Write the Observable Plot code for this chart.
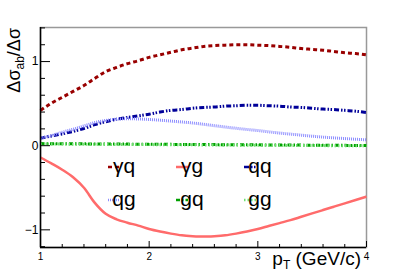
<!DOCTYPE html>
<html><head><meta charset="utf-8">
<script src="https://cdn.jsdelivr.net/npm/d3@7"></script>
<script src="https://cdn.jsdelivr.net/npm/@observablehq/plot@0.6"></script>
<style>body{margin:0;background:#fff} svg{display:block}</style>
</head><body><div id="chart"></div>
<script>
const pT = [1.0,1.1,1.2,1.3,1.4,1.5,1.6,1.7,1.8,1.9,2.0,2.1,2.2,2.3,2.4,2.5,2.6,2.7,2.8,2.9,3.0,3.1,3.2,3.3,3.4,3.5,3.6,3.7,3.8,3.9,4.0];
const gammaQ = [0.42,0.505,0.575,0.645,0.715,0.80,0.88,0.93,0.975,1.01,1.05,1.08,1.11,1.14,1.16,1.18,1.19,1.195,1.20,1.20,1.195,1.19,1.18,1.17,1.155,1.145,1.135,1.12,1.105,1.095,1.08];
const gammaG = [-0.14,-0.21,-0.285,-0.375,-0.50,-0.68,-0.81,-0.875,-0.915,-0.95,-0.99,-1.02,-1.045,-1.065,-1.075,-1.08,-1.075,-1.065,-1.045,-1.02,-0.99,-0.955,-0.92,-0.885,-0.845,-0.805,-0.765,-0.725,-0.685,-0.645,-0.605];
const qq = [0.09,0.115,0.14,0.17,0.205,0.25,0.285,0.315,0.335,0.355,0.375,0.40,0.42,0.43,0.445,0.455,0.46,0.47,0.475,0.48,0.48,0.475,0.47,0.46,0.455,0.445,0.435,0.43,0.42,0.41,0.395];
const qg = [0.09,0.12,0.16,0.195,0.235,0.275,0.30,0.315,0.32,0.318,0.312,0.303,0.293,0.282,0.27,0.255,0.238,0.222,0.207,0.193,0.18,0.165,0.15,0.138,0.125,0.113,0.102,0.093,0.085,0.077,0.07];
const gq = [0.025,0.024,0.024,0.023,0.022,0.021,0.021,0.02,0.019,0.018,0.018,0.017,0.016,0.015,0.015,0.014,0.013,0.012,0.012,0.011,0.01,0.009,0.009,0.008,0.007,0.006,0.006,0.005,0.004,0.003,0.003];
const gg = [0.02,0.019,0.019,0.018,0.017,0.016,0.016,0.015,0.014,0.013,0.013,0.012,0.011,0.01,0.01,0.009,0.008,0.007,0.007,0.006,0.005,0.004,0.004,0.003,0.002,0.001,0.001,0.0,-0.001,-0.002,-0.002];

const seriesNames = ["γq","γg","qq","qg","gq","gg"];
const seriesValues = [gammaQ, gammaG, qq, qg, gq, gg];
const seriesColors = ["#990000","#ff6b6b","#000099","#8c8cff","#00a000","#70e070"];
const seriesDash = ["4,3", null, "5,2,1.5,1.5,1.5,2", "1,1", "4,2,1.5,2", "1.5,2"];
const seriesWidth = [3, 2.5, 3, 3, 3, 3];

const xDomain = [1, 4];
const yDomain = [-1.21, 1.405];
const xMajor = [1, 2, 3, 4];
const xMinor = [1.2,1.4,1.6,1.8,2.2,2.4,2.6,2.8,3.2,3.4,3.6,3.8];
const yMajor = [-1, 0, 1];
const yMinor = [-1.2,-0.8,-0.6,-0.4,-0.2,0.2,0.4,0.6,0.8,1.2,1.4];

const W = 407, H = 275, mL = 40, mR = 41, mT = 27, mB = 28;
const pw = W - mL - mR, ph = H - mT - mB;

const rows = [];
seriesNames.forEach((s, k) => pT.forEach((x, i) => rows.push({s, x, y: seriesValues[k][i]})));

const lineMarks = seriesNames.map((s, k) => Plot.line(rows.filter(r => r.s === s), {
  x: "x", y: "y", stroke: seriesColors[k], strokeWidth: seriesWidth[k],
  strokeDasharray: seriesDash[k] || undefined, strokeLinecap: "butt", curve: "monotone-x"
}));

const font = "'Liberation Sans', Arial, Helvetica, sans-serif";
const fmt = d => (d < 0 ? "\u2212" : "") + Math.abs(d);

const chart = Plot.plot({
  width: W, height: H,
  marginLeft: mL, marginRight: mR, marginTop: mT, marginBottom: mB,
  style: {fontFamily: font, background: "white", overflow: "visible"},
  x: {domain: xDomain},
  y: {domain: yDomain},
  marks: [
    Plot.frame({stroke: "#999", strokeWidth: 1.5}),
    ...lineMarks,
    Plot.tickY(yMajor, {y: d => d, insetRight: pw - 10, stroke: "black", strokeWidth: 1}),
    Plot.tickY(yMinor, {y: d => d, insetRight: pw - 5, stroke: "black", strokeWidth: 1}),
    Plot.tickX(xMajor, {x: d => d, insetTop: ph - 6, stroke: "black", strokeWidth: 1}),
    Plot.tickX(xMinor, {x: d => d, insetTop: ph - 3, stroke: "black", strokeWidth: 1}),
    Plot.ruleX([xDomain[0]], {stroke: "black", strokeWidth: 1.5}),
    Plot.ruleY([yDomain[0]], {stroke: "black", strokeWidth: 1.5}),
    Plot.axisX({ticks: xMajor, tickSize: 0, tickPadding: 5, fontSize: 10, label: null, tickFormat: fmt}),
    Plot.axisY({ticks: yMajor, tickSize: 0, tickPadding: 2, fontSize: 12, label: null, tickFormat: fmt})
  ]
});

document.getElementById("chart").appendChild(chart);
const svg = d3.select(chart);

// Axis titles
const xt = svg.append("text").attr("x", 361).attr("y", 265).attr("text-anchor", "end")
  .attr("font-family", font).attr("font-size", 19).attr("fill", "black");
xt.append("tspan").text("p");
xt.append("tspan").attr("font-size", 12).attr("dy", 4).text("T");
xt.append("tspan").attr("dy", -4).text(" (GeV/c)");

const yt = svg.append("text").attr("transform", "translate(19.5,28) rotate(-90)").attr("text-anchor", "end")
  .attr("font-family", font).attr("font-size", 18).attr("fill", "black");
yt.append("tspan").text("Δσ");
yt.append("tspan").attr("font-size", 12).attr("dy", 4).text("ab");
yt.append("tspan").attr("dy", -4).text("/Δσ");

// Legend
const sampleX = [108, 176, 244];
const textX = [124, 192, 260];
const rowY = [167, 200];
const lg = svg.append("g");
seriesNames.forEach((s, k) => {
  const c = k % 3, cy = rowY[Math.floor(k / 3)];
  lg.append("line").attr("x1", sampleX[c]).attr("x2", sampleX[c] + 12).attr("y1", cy).attr("y2", cy)
    .attr("stroke", seriesColors[k]).attr("stroke-width", 2.5)
    .attr("stroke-dasharray", seriesDash[k]);
  lg.append("text").attr("x", textX[c]).attr("y", cy + 6).attr("font-family", font)
    .attr("font-size", 21).attr("fill", "black").text(s);
});
</script></body></html>
